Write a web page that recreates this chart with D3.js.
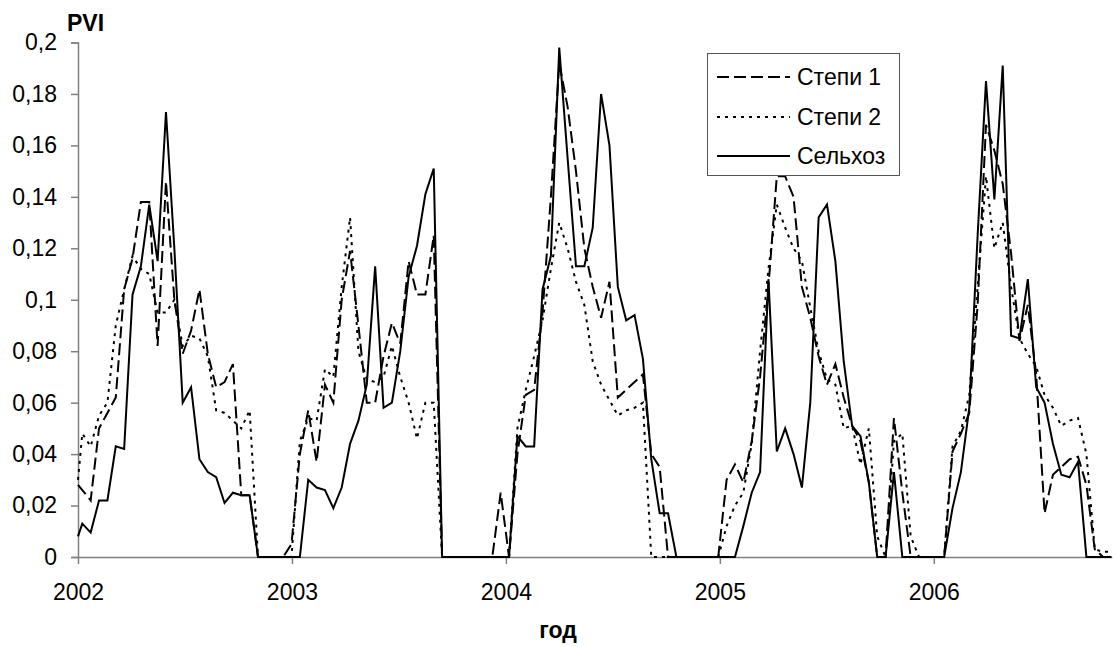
<!DOCTYPE html>
<html>
<head>
<meta charset="utf-8">
<script src="https://cdn.jsdelivr.net/npm/d3@7"></script>
<style>
  html, body { margin: 0; padding: 0; background: #fff; }
  svg { display: block; }
  text { font-family: "Liberation Sans", Arial, sans-serif; fill: #000; }
</style>
</head>
<body>
<svg id="chart" width="1113" height="647"></svg>
<script>
// ---------- data ----------
// Sampling dates: first point at 1 Jan 2002, then regular ~14-day composites
const firstDate = 2002.0;
const gridStart = 2002.0201;
const gridStep = 0.03911;   // years between composites
const gridCount = 124;

const seriesNames = ["Степи 1", "Степи 2", "Сельхоз"];
const yearTicks = [2002, 2003, 2004, 2005, 2006];
const yTicks = [0, 0.02, 0.04, 0.06, 0.08, 0.1, 0.12, 0.14, 0.16, 0.18, 0.2];

// Степи 1 (dashed)
const stepi1 = [0.028,
  0.026, 0.022, 0.05, 0.056, 0.062, 0.104, 0.116, 0.138, 0.138, 0.082,
  0.146, 0.1, 0.079, 0.088, 0.104, 0.079, 0.066, 0.068, 0.075, 0.024,
  0.024, 0, 0, 0, 0, 0.005, 0.04, 0.057, 0.037, 0.067,
  0.06, 0.1, 0.119, 0.09, 0.06, 0.06, 0.078, 0.091, 0.083, 0.115,
  0.102, 0.102, 0.125, 0, 0, 0, 0, 0, 0, 0,
  0.025, 0, 0.04, 0.063, 0.065, 0.095, 0.14, 0.192, 0.175, 0.15,
  0.12, 0.105, 0.093, 0.107, 0.062, 0.065, 0.068, 0.071, 0.04, 0.035,
  0, 0, 0, 0, 0, 0, 0, 0.03, 0.036, 0.029,
  0.045, 0.07, 0.105, 0.148, 0.148, 0.14, 0.105, 0.093, 0.078, 0.067,
  0.075, 0.062, 0.051, 0.045, 0.029, 0, 0, 0.054, 0.025, 0,
  0, 0, 0, 0, 0.041, 0.048, 0.056, 0.098, 0.168, 0.158,
  0.145, 0.118, 0.084, 0.098, 0.071, 0.017, 0.032, 0.035, 0.038, 0.039,
  0.028, 0.003, 0, 0];

// Степи 2 (dotted)
const stepi2 = [0.03,
  0.048, 0.043, 0.055, 0.06, 0.09, 0.104, 0.117, 0.112, 0.11, 0.095,
  0.095, 0.1, 0.082, 0.086, 0.085, 0.078, 0.057, 0.056, 0.053, 0.05,
  0.057, 0, 0, 0, 0, 0, 0.045, 0.054, 0.053, 0.073,
  0.07, 0.105, 0.132, 0.08, 0.069, 0.068, 0.07, 0.082, 0.07, 0.06,
  0.046, 0.06, 0.06, 0, 0, 0, 0, 0, 0, 0,
  0, 0, 0.05, 0.065, 0.078, 0.092, 0.112, 0.13, 0.12, 0.107,
  0.098, 0.076, 0.067, 0.061, 0.055, 0.057, 0.058, 0.06, 0, 0,
  0, 0, 0, 0, 0, 0, 0, 0.012, 0.02, 0.025,
  0.044, 0.08, 0.112, 0.137, 0.128, 0.12, 0.115, 0.097, 0.08, 0.069,
  0.067, 0.05, 0.051, 0.036, 0.05, 0.008, 0, 0.045, 0.048, 0.008,
  0, 0, 0, 0, 0.043, 0.049, 0.063, 0.105, 0.148, 0.12,
  0.13, 0.105, 0.085, 0.079, 0.074, 0.063, 0.058, 0.051, 0.053, 0.054,
  0.04, 0.003, 0.002, 0.002];

// Сельхоз (solid)
const selkhoz = [0.008,
  0.013, 0.0095, 0.022, 0.022, 0.043, 0.042, 0.102, 0.113, 0.137, 0.115,
  0.173, 0.12, 0.06, 0.066, 0.038, 0.033, 0.031, 0.021, 0.025, 0.024,
  0.024, 0, 0, 0, 0, 0, 0, 0.03, 0.027, 0.026,
  0.019, 0.027, 0.044, 0.053, 0.067, 0.113, 0.058, 0.06, 0.08, 0.109,
  0.121, 0.141, 0.151, 0, 0, 0, 0, 0, 0, 0,
  0, 0, 0.047, 0.043, 0.043, 0.104, 0.117, 0.198, 0.155, 0.113,
  0.113, 0.128, 0.18, 0.16, 0.105, 0.092, 0.094, 0.077, 0.038, 0.017,
  0.017, 0, 0, 0, 0, 0, 0, 0, 0, 0.012,
  0.025, 0.033, 0.108, 0.041, 0.05, 0.04, 0.027, 0.06, 0.132, 0.137,
  0.115, 0.076, 0.051, 0.047, 0.029, 0, 0, 0.033, 0, 0,
  0, 0, 0, 0, 0.019, 0.033, 0.058, 0.125, 0.185, 0.139,
  0.191, 0.086, 0.085, 0.108, 0.066, 0.06, 0.044, 0.032, 0.031, 0.037,
  0, 0, 0, 0];

const dates = [firstDate].concat(d3.range(gridCount).map(i => gridStart + i * gridStep));

// ---------- drawing ----------
const svg = d3.select("#chart");
const FONT = 23;

const x = d3.scaleLinear().domain([2002, 2006.832]).range([78, 1111.8]);
const y = d3.scaleLinear().domain([0, 0.2]).range([557, 42.5]);

const axisColor = "#808080";

// y axis
const yAxis = svg.append("g").attr("transform", "translate(78,0)")
  .call(d3.axisLeft(y).tickValues(yTicks).tickSize(7).tickPadding(14)
    .tickFormat(d => String(+d.toFixed(2)).replace(".", ",")));
yAxis.select(".domain").attr("stroke", axisColor).attr("stroke-width", 1.5);
yAxis.selectAll(".tick line").attr("stroke", axisColor).attr("stroke-width", 1.5);
yAxis.selectAll(".tick text").attr("font-size", FONT)
  .attr("font-family", "'Liberation Sans', Arial, sans-serif").attr("fill", "#000");

// x axis
const xAxis = svg.append("g").attr("transform", "translate(0,557)")
  .call(d3.axisBottom(x).tickValues(yearTicks).tickSize(7).tickSizeOuter(0).tickPadding(20)
    .tickFormat(d3.format("d")));
xAxis.select(".domain").attr("stroke", axisColor).attr("stroke-width", 1.5);
xAxis.selectAll(".tick line").attr("stroke", axisColor).attr("stroke-width", 1.5);
xAxis.selectAll(".tick text").attr("font-size", FONT)
  .attr("font-family", "'Liberation Sans', Arial, sans-serif").attr("fill", "#000");

// series
const styles = [
  { data: stepi1, dash: "12,5" },
  { data: stepi2, dash: "3,5" },
  { data: selkhoz, dash: null }
];
const line = d3.line().x((d, i) => x(dates[i])).y(d => y(d));

styles.forEach(s => {
  svg.append("path")
    .datum(s.data)
    .attr("d", line)
    .attr("fill", "none")
    .attr("stroke", "#000")
    .attr("stroke-width", 2)
    .attr("stroke-linejoin", "miter")
    .attr("stroke-dasharray", s.dash);
});

// axis titles
svg.append("text").attr("x", 67).attr("y", 31)
  .attr("font-size", FONT).attr("font-weight", "bold").text("PVI");
svg.append("text").attr("x", 558).attr("y", 638).attr("text-anchor", "middle")
  .attr("font-size", FONT).attr("font-weight", "bold").text("год");

// legend
const lg = svg.append("g");
lg.append("rect").attr("x", 707.5).attr("y", 53.5).attr("width", 192).attr("height", 122)
  .attr("fill", "#fff").attr("stroke", "#555").attr("stroke-width", 1);
const rowY = [77, 117, 156];
styles.forEach((s, k) => {
  lg.append("line").attr("x1", 717).attr("x2", 790).attr("y1", rowY[k]).attr("y2", rowY[k])
    .attr("stroke", "#000").attr("stroke-width", 2).attr("stroke-dasharray", s.dash);
  lg.append("text").attr("x", 797).attr("y", rowY[k]).attr("dy", "0.36em")
    .attr("font-size", FONT).text(seriesNames[k]);
});
</script>
</body>
</html>
